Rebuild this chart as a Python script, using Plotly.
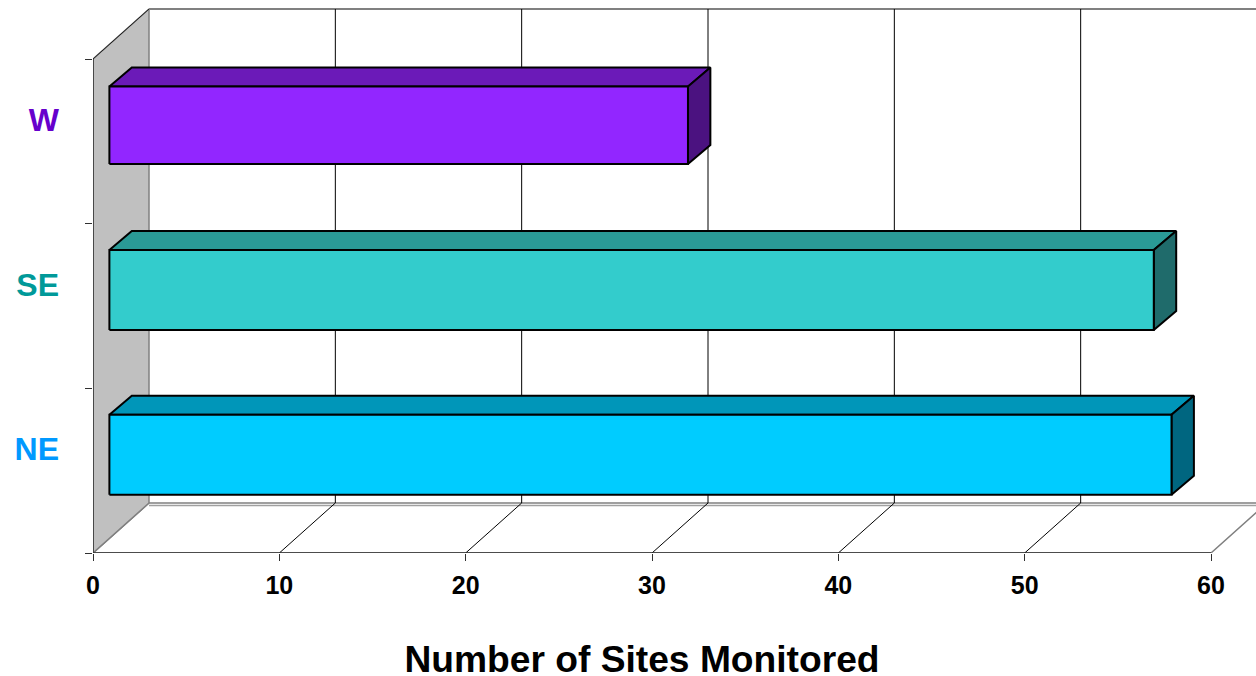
import plotly.graph_objects as go

# ---- data ----
categories = ["NE", "SE", "W"]
sites_monitored = [57.0, 56.05, 31.05]
label_colors = ["#0099FF", "#009999", "#6600CC"]
front_colors = ["#00CCFF", "#33CCCC", "#9226FF"]
top_colors = ["#0096B9", "#2A9A96", "#6B1AB8"]
side_colors = ["#006680", "#1F6B6B", "#4B1280"]
x_ticks = [0, 10, 20, 30, 40, 50, 60]
y_boundaries = [0, 1, 2, 3]

# ---- layout constants ----
W, H = 1256, 676
L, B = 93, 123
XMAX, YMAX = 60, 3
px_x = (1211 - L) / XMAX       # pixels per x unit
px_y = (553 - 59) / YMAX       # pixels per y unit
X_RANGE_END = (W - L) / px_x   # plot area runs to the figure's edge so the box depth is visible
Y_RANGE_END = (H - B) / px_y
WALL_DX, WALL_DY = 56 / px_x, 50 / px_y   # depth of the chart box
BAR_DX0 = 16.4 / px_x                     # bar front offset from the wall plane
BAR_DX, BAR_DY = 22.4 / px_x, 19 / px_y   # depth of each bar
BAR_CENTER = 0.597                        # bar centre within its category band
BAR_THICK = [80 / px_y, 80 / px_y, 77.5 / px_y]
LABEL_CENTER = 0.63
EDGE_GREY, AXIS_DARK = "#808080", "#303030"

fig = go.Figure()


def poly(xs, ys, fill, line, width, name):
    fig.add_trace(go.Scatter(
        x=list(xs) + [xs[0]], y=list(ys) + [ys[0]], mode="lines", fill="toself",
        fillcolor=fill, line=dict(color=line, width=width), name=name,
        showlegend=False, hoverinfo="skip"))


def segs(pairs, color, width, name):
    xs, ys = [], []
    for (x0, y0), (x1, y1) in pairs:
        xs += [x0, x1, None]
        ys += [y0, y1, None]
    fig.add_trace(go.Scatter(
        x=xs, y=ys, mode="lines", line=dict(color=color, width=width), name=name,
        showlegend=False, hoverinfo="skip"))


# floor and side wall
poly([0, XMAX, XMAX + WALL_DX, WALL_DX], [0, 0, WALL_DY, WALL_DY], "#FFFFFF", EDGE_GREY, 1.5, "floor")
poly([0, WALL_DX, WALL_DX, 0], [0, WALL_DY, YMAX + WALL_DY, YMAX], "#C0C0C0", EDGE_GREY, 1.5, "wall")

# back wall top edge and second floor edge
segs([((WALL_DX, YMAX + WALL_DY), (XMAX + WALL_DX, YMAX + WALL_DY))], EDGE_GREY, 2, "back top")
segs([((WALL_DX, WALL_DY - 2.5 / px_y), (XMAX + WALL_DX, WALL_DY - 2.5 / px_y))], "#A0A0A0", 1.5, "floor lip")

# gridlines: back wall and floor
inner = [t for t in x_ticks if 0 < t < XMAX]
segs([((t + WALL_DX, WALL_DY), (t + WALL_DX, YMAX + WALL_DY)) for t in inner], "#000000", 1, "back grid")
segs([((t, 0), (t + WALL_DX, WALL_DY)) for t in inner], "#000000", 1, "floor grid")
segs([((0, YMAX), (WALL_DX, YMAX + WALL_DY))], "#202020", 1, "top edge")

# 3-D bars
for i, v in enumerate(sites_monitored):
    x0, x1 = BAR_DX0, BAR_DX0 + v
    y0, y1 = i + BAR_CENTER - BAR_THICK[i] / 2, i + BAR_CENTER + BAR_THICK[i] / 2
    poly([x0, x1, x1 + BAR_DX, x0 + BAR_DX], [y1, y1, y1 + BAR_DY, y1 + BAR_DY],
         top_colors[i], "#000000", 2, categories[i] + " top")
    poly([x1, x1 + BAR_DX, x1 + BAR_DX, x1], [y0, y0 + BAR_DY, y1 + BAR_DY, y1],
         side_colors[i], "#000000", 2, categories[i] + " side")
    poly([x0, x1, x1, x0], [y0, y0, y1, y1], front_colors[i], "#000000", 2, categories[i])

fig.update_layout(
    width=W, height=H, margin=dict(l=L, r=0, t=0, b=B, autoexpand=False),
    paper_bgcolor="white", plot_bgcolor="rgba(0,0,0,0)", showlegend=False,
    font=dict(family="Liberation Sans, Arial, sans-serif", color="#000000"),
    title=dict(text="<b>Number of Sites Monitored</b>", x=642 / W, y=(H - 659) / H,
               xref="container", yref="container", xanchor="center", yanchor="middle",
               font=dict(size=37.2, color="#000000")),
    xaxis=dict(range=[0, X_RANGE_END], tickvals=x_ticks, ticktext=[f"<b>{t}</b>" for t in x_ticks],
               showgrid=False, zeroline=False, showline=False,
               ticks="outside", ticklen=7, tickcolor=AXIS_DARK, tickwidth=1,
               ticklabelstandoff=3, tickfont=dict(size=25, color="#000000")),
    yaxis=dict(range=[0, Y_RANGE_END],
               tickvals=[i + LABEL_CENTER for i in range(len(categories))],
               ticktext=[f'<b><span style="color:{c}">{n}</span></b>' for n, c in zip(categories, label_colors)],
               ticks="", showgrid=False, zeroline=False, showline=False,
               ticklabelstandoff=33, tickfont=dict(size=32),
               minor=dict(tickvals=y_boundaries, ticks="outside", ticklen=7, tickcolor=AXIS_DARK,
                          tickwidth=1, showgrid=False)),
)

# front axis lines, only as long as the chart box
segs([((0, 0), (XMAX, 0))], AXIS_DARK, 1.5, "x axis line")
segs([((0, 0), (0, YMAX))], AXIS_DARK, 1.5, "y axis line")

fig.write_html("out.html", config={"displayModeBar": False},
               post_script="document.body.style.margin='0';")
